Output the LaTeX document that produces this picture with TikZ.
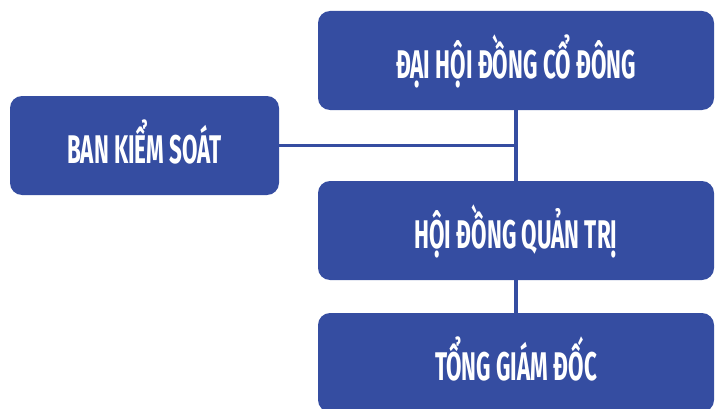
\documentclass[tikz,border=0pt]{standalone}
\usepackage{fontspec}
\newfontfamily\boxfont{Fira Sans}[FakeStretch=0.56]
\definecolor{boxblue}{HTML}{354DA1}
\begin{document}
\begin{tikzpicture}[x=1pt,y=1pt,
  orgbox/.style={draw=none, fill=boxblue, rounded corners=12pt, inner sep=0pt,
    minimum height=99pt, text height=36pt, text depth=0pt, text=white,
    font=\boxfont\bfseries\fontsize{40}{40}\selectfont},
  link/.style={draw=boxblue, line width=3.2pt}]
\useasboundingbox (0,0) rectangle (715,408);
\node[orgbox, minimum width=396pt] (dhd) at (516,347.5) {ĐẠI HỘI ĐỒNG CỔ ĐÔNG};
\node[orgbox, minimum width=269pt] (bks) at (144.5,262.5) {BAN KIỂM SOÁT};
\node[orgbox, minimum width=396pt] (hdqt) at (516,177.5) {HỘI ĐỒNG QUẢN TRỊ};
\node[orgbox, minimum width=396pt] (tgd) at (516,45.5) {TỔNG GIÁM ĐỐC};
\draw[link] (dhd.south) -- (hdqt.north);
\draw[link] (bks.east) -- (dhd.south |- bks.east);
\draw[link] (hdqt.south) -- (tgd.north);
\end{tikzpicture}
\end{document}
